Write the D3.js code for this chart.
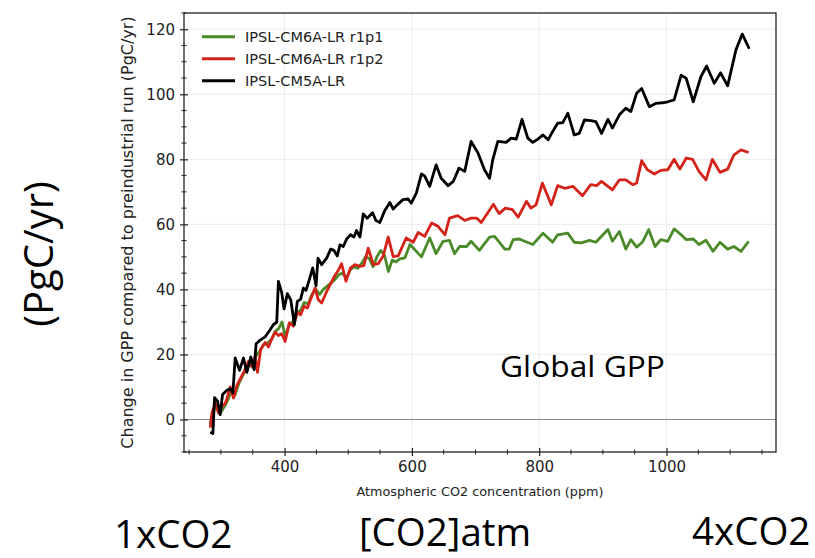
<!DOCTYPE html>
<html><head><meta charset="utf-8">
<script src="https://cdn.jsdelivr.net/npm/d3@7"></script>
<style>body{margin:0;background:#fff}svg{display:block}</style>
</head><body>
<svg id="c" width="815" height="558"></svg>
<script>
// ---- data ----
const seriesNames = ["IPSL-CM6A-LR r1p1", "IPSL-CM6A-LR r1p2", "IPSL-CM5A-LR"];
const xTicks = [400, 600, 800, 1000];
const yTicks = [0, 20, 40, 60, 80, 100, 120];

const cm5_co2 = [283.2,287.4,290,294.7,298.9,302.6,309.4,314.6,318.8,322.4,329.2,335.5,340.7,347,352.2,355.3,361.6,369.4,377.3,382.5,387.7,390.3,395.6,399.2,404.4,409.7,415.4,420.1,425.3,429.5,433.7,438.9,444.2,449.4,452.5,458.3,466.1,472.4,477.6,482.8,487,492.2,497.5,503.7,509,513.1,518.4,523.6,529.8,538.2,543.5,549.7,557.5,565.4,570.6,576.9,586,594,599,607,615,620,628,638,646,657,665,674,683,693,704,714,722,727,735,748,756,764,773,782,790,798,806,814,821,829,837,845,855,863,871,881,889,898,908,915,926,936,944,953,961,973,983,994,1002,1012,1023,1031,1042,1054,1063,1075,1085,1096,1109,1119,1130];
const cm5_gpp = [-3.9,-4.3,6.7,5.6,1.5,7.7,9,9.4,8.2,18.9,15.1,18.9,14.5,19.2,15.3,23.3,24.4,25.4,27.6,29.2,29.9,42.5,38.9,34,38.7,36.8,29.2,36.3,37,40.4,39.7,43,46.6,41.1,49.6,47.6,49.6,52.4,52,50.3,53.7,53.2,55.5,56.8,56.1,58.1,56.1,63.2,61.9,63.6,61.2,60.6,64.3,66.7,64.7,66,67.6,67.8,66.5,69.6,75.5,74.9,71.7,78.3,74.2,71.9,73.2,77.3,76.3,85.5,81.9,76.8,74.2,79.8,85.5,85.2,86.5,86.2,92.3,86.5,85.2,86.2,87.5,86,88.5,91.1,91.3,94.2,87.5,88,92.1,91.9,91.6,88,92.3,89.6,93.7,95.7,94.7,100.3,101.8,96.2,97.2,97.4,97.7,98.3,105.9,104.9,97.7,105.4,108.7,103.4,106.6,102.6,113.6,118.5,114];

const r1p2_co2 = [283.2,285.8,291.1,296.3,301.5,306.7,309.4,314.6,319.8,325,330.3,336.5,343.3,348.5,353.8,357.4,362.6,369.4,374.7,379.9,385.1,390.3,395.6,400.8,407.6,413.8,420.1,425.3,430.6,435.8,441,447.8,453,458.3,465.1,471.4,477.6,484.4,489.6,496.4,503.7,510.5,518.4,524.6,531.4,539.3,547.1,555,562.8,570.6,578.5,591,602,610,620,631,641,652,659,672,683,693,702,709,719,728,737,747,758,767,780,787,795,805,819,829,840,853,868,881,890,898,908,915,926,936,947,953,961,970,981,991,1002,1012,1021,1031,1041,1051,1062,1072,1084,1096,1106,1117,1129];
const r1p2_gpp = [-2.5,2,4.9,2,4.1,4.9,6.4,10,6.6,10.4,12.5,14.8,17.9,16.4,19.4,14.5,21.7,23.7,22.3,24.8,26.8,25.8,26.4,24,29.7,28.7,32.9,32.2,34.8,34.3,37,40.4,36.8,35.8,38.9,41.4,43.8,45.9,47.9,42.5,46.6,47.6,47.1,47.3,52.7,47.6,47.9,50.3,56.1,50.1,50.3,55.8,54.5,57.5,56.3,60.4,59.4,56.8,61.9,62.7,61.2,61.9,61.9,60.6,63.5,66.2,63.3,65,64.5,62.2,67.1,65,66,72.7,66,71.9,71.1,71.7,68.8,72.2,71.9,73.2,71.7,70.6,73.7,73.7,72.2,72.7,79.6,76.8,75.5,76.6,76.8,80,77,80.4,80,76.3,73.7,80,76,77,81.4,82.9,82.1];

const r1p1_co2 = [283.2,286,291,296,301,307,312,317,322,328,333,339,344,350,355,361,367,373,379,385,391,396,401,407,413,419,425,431,437,443,449,455,461,467,473,479,485,491,497,503,509,515,521,527,533,539,545,551,557,563,569,575,581,589,597,607,615,628,638,649,659,667,675,686,693,706,722,730,746,753,759,769,777,790,806,821,829,845,855,866,879,889,908,915,926,936,944,953,962,972,982,991,1002,1012,1023,1031,1042,1051,1062,1073,1084,1096,1106,1117,1129];
const r1p1_gpp = [-1.5,1,4,3,2.5,4.5,6.5,9,7.5,11,13,15.5,17,16,19.5,21,23,23.5,24.5,27,28,30,25.5,29,30,33,33.5,36,35.5,38.5,40,38.5,40,41,42,43,44.5,45,43.5,46,47,46.5,48,50,49.5,47,50,52,50.5,45.5,49,48.5,49.4,49.7,53.8,51.7,50,55.8,51,54.8,55.1,51,53.2,53.2,54.8,52,56.1,56.3,52.4,52.4,55.3,55.5,54.8,53.8,57.3,54.5,56.8,57.3,54.5,54.3,55.1,54.5,58.4,54.8,57.8,52.4,55.3,53,54.5,58.4,53.2,55.3,54.8,58.6,56.8,55.3,55.5,53.8,55.1,51.7,54.5,52.4,53.2,51.7,54.8];

const colors = ["#4b8a29", "#d4231a", "#000000"];

// ---- layout ----
const svg = d3.select("#c");
const L = 184, R = 776, T = 13, B = 452;
const x = d3.scaleLinear().domain([242, 1172]).range([L, R]);
const y = d3.scaleLinear().domain([-10, 125]).range([B, T]);
const tickFont = "DejaVu Sans, sans-serif";

// grid
const g = svg.append("g");
g.selectAll(".gx").data(xTicks).join("line")
  .attr("x1", d => x(d)).attr("x2", d => x(d)).attr("y1", T).attr("y2", B)
  .attr("stroke", "#ebebeb").attr("stroke-width", 1);
g.selectAll(".gy").data(yTicks.filter(d => d !== 0)).join("line")
  .attr("x1", L).attr("x2", R).attr("y1", d => y(d)).attr("y2", d => y(d))
  .attr("stroke", "#ebebeb").attr("stroke-width", 1);
// zero line
g.append("line").attr("x1", L).attr("x2", R).attr("y1", y(0)).attr("y2", y(0))
  .attr("stroke", "#8a8a8a").attr("stroke-width", 1.2);

// lines
const series = [
  {co2: r1p1_co2, gpp: r1p1_gpp},
  {co2: r1p2_co2, gpp: r1p2_gpp},
  {co2: cm5_co2, gpp: cm5_gpp}
];
const line = d3.line().x(d => x(d[0])).y(d => y(d[1]));
series.forEach((s, i) => {
  svg.append("path").datum(s.co2.map((c, j) => [c, s.gpp[j]]))
    .attr("d", line).attr("fill", "none").attr("stroke", colors[i])
    .attr("stroke-width", 2.8).attr("stroke-linejoin", "round").attr("stroke-linecap", "butt");
});

// frame
svg.append("rect").attr("x", L).attr("y", T).attr("width", R - L).attr("height", B - T)
  .attr("fill", "none").attr("stroke", "#222").attr("stroke-width", 1.3);

// axes
const xAxis = d3.axisBottom(x).tickValues(xTicks).tickSize(4).tickPadding(5).tickFormat(d3.format("d"));
const xg = svg.append("g").attr("transform", `translate(0,${B})`).call(xAxis);
xg.select(".domain").remove();
xg.selectAll("text").attr("font-family", tickFont).attr("font-size", 15).attr("fill", "#222");
xg.selectAll("line").attr("y1", -4).attr("stroke", "#222").attr("stroke-width", 1.2);

const yAxis = d3.axisLeft(y).tickValues(yTicks).tickSize(4).tickPadding(5);
const yg = svg.append("g").attr("transform", `translate(${L},0)`).call(yAxis);
yg.select(".domain").remove();
yg.selectAll("text").attr("font-family", tickFont).attr("font-size", 15).attr("fill", "#222");
yg.selectAll("line").attr("x1", 4).attr("stroke", "#222").attr("stroke-width", 1.2);

// minor ticks
const xMinor = d3.range(250, 1172, 50).filter(v => !xTicks.includes(v));
svg.append("g").selectAll("line").data(xMinor).join("line")
  .attr("x1", d => x(d)).attr("x2", d => x(d)).attr("y1", B - 2.5).attr("y2", B + 2.5)
  .attr("stroke", "#222").attr("stroke-width", 1);
const yMinor = d3.range(-10, 126, 5).filter(v => !yTicks.includes(v));
svg.append("g").selectAll("line").data(yMinor).join("line")
  .attr("x1", L - 2.5).attr("x2", L + 2.5).attr("y1", d => y(d)).attr("y2", d => y(d))
  .attr("stroke", "#222").attr("stroke-width", 1);

// axis titles
svg.append("text").attr("x", (L + R) / 2).attr("y", 496).attr("text-anchor", "middle")
  .attr("font-family", tickFont).attr("font-size", 12.8).attr("fill", "#222")
  .text("Atmospheric CO2 concentration (ppm)");
svg.append("text").attr("transform", `translate(133,${(T + B) / 2}) rotate(-90)`)
  .attr("text-anchor", "middle").attr("font-family", tickFont).attr("font-size", 16).attr("fill", "#222")
  .text("Change in GPP compared to preindustrial run (PgC/yr)");

// legend
const lg = svg.append("g");
seriesNames.forEach((n, i) => {
  const yy = 36.7 + i * 22;
  lg.append("line").attr("x1", 202).attr("x2", 235).attr("y1", yy).attr("y2", yy)
    .attr("stroke", colors[i]).attr("stroke-width", 3);
  lg.append("text").attr("x", 245).attr("y", yy).attr("dy", "0.35em")
    .attr("font-family", tickFont).attr("font-size", 14.5).attr("fill", "#222").text(n);
});

// annotations
const annFont = "Open Sans, Lato, sans-serif";
svg.append("text").attr("x", 500).attr("y", 377).attr("font-family", annFont)
  .attr("font-size", 29).attr("textLength", 165).attr("lengthAdjust", "spacingAndGlyphs")
  .attr("fill", "#000").text("Global GPP");
svg.append("text").attr("transform", "translate(53,254) rotate(-90)").attr("text-anchor", "middle")
  .attr("font-family", annFont).attr("font-size", 40).attr("fill", "#000").text("(PgC/yr)");
svg.append("text").attr("x", 114).attr("y", 548).attr("font-family", annFont)
  .attr("font-size", 38.5).attr("fill", "#000").text("1xCO2");
svg.append("text").attr("x", 359).attr("y", 546).attr("font-family", annFont)
  .attr("font-size", 38.5).attr("fill", "#000").text("[CO2]atm");
svg.append("text").attr("x", 692).attr("y", 545).attr("font-family", annFont)
  .attr("font-size", 38.5).attr("fill", "#000").text("4xCO2");
</script>
</body></html>
